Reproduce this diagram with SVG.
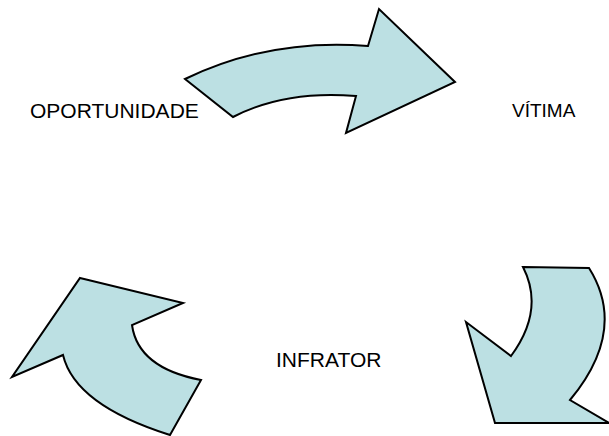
<svg xmlns="http://www.w3.org/2000/svg" width="609" height="436" viewBox="0 0 609 436">
  <style>
    .arrow { fill: #bce0e3; stroke: #000; stroke-width: 2; stroke-linejoin: miter; }
    .label { font-family: "Liberation Sans", Arial, sans-serif; font-size: 21px; fill: #000; }
  </style>
  <rect width="609" height="436" fill="#fff"/>
  <g id="connectors">
    <!-- curved arrow: OPORTUNIDADE to VÍTIMA -->
    <path id="arrow-top" class="arrow" d="M185,79 Q270,38 368,46 L379,9 L455,82 L346,133 L356,96 Q285,90 233,117 Z"/>
    <!-- curved arrow down the right side -->
    <path id="arrow-right" class="arrow" d="M523,267 L589,268 Q628,330 570,400 L609,423 L495,423 L466,322 L511,356 Q545,310 523,267 Z"/>
    <!-- curved arrow up the left side -->
    <path id="arrow-left" class="arrow" d="M80,278 L183,303 L132,325 Q138,368 201,380 L170,435 Q75,405 63,355 L12,377 Z"/>
  </g>
  <g id="oportunidade">
    <text class="label" x="30" y="118">OPORTUNIDADE</text>
  </g>
  <g id="vitima">
    <text class="label" x="512" y="117" style="font-size:19px">VÍTIMA</text>
  </g>
  <g id="infrator">
    <text class="label" x="276" y="367">INFRATOR</text>
  </g>
</svg>
